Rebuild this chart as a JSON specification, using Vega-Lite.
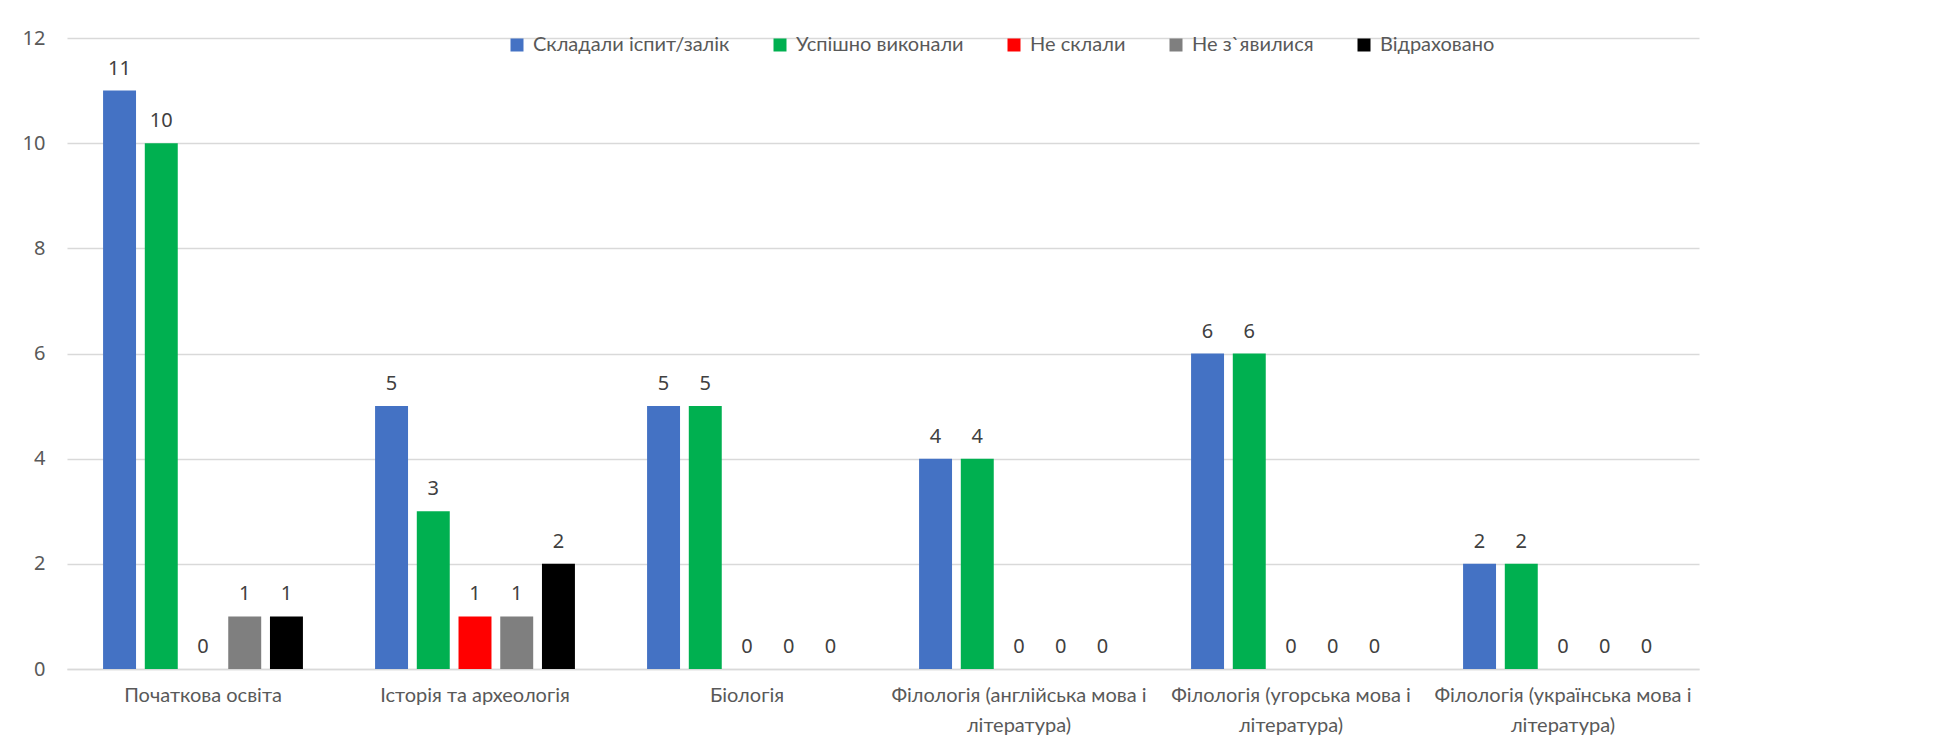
{
  "$schema": "https://vega.github.io/schema/vega-lite/v6.json",
  "autosize": {"type": "none"},
  "width": 1632,
  "height": 631,
  "padding": {"left": 67, "top": 38, "right": 260, "bottom": 79},
  "background": "white",
  "data": {
    "values": [
      {"program": "Початкова освіта", "status": "Складали іспит/залік", "count": 11},
      {"program": "Початкова освіта", "status": "Успішно виконали", "count": 10},
      {"program": "Початкова освіта", "status": "Не склали", "count": 0},
      {"program": "Початкова освіта", "status": "Не з`явилися", "count": 1},
      {"program": "Початкова освіта", "status": "Відраховано", "count": 1},
      {"program": "Історія та археологія", "status": "Складали іспит/залік", "count": 5},
      {"program": "Історія та археологія", "status": "Успішно виконали", "count": 3},
      {"program": "Історія та археологія", "status": "Не склали", "count": 1},
      {"program": "Історія та археологія", "status": "Не з`явилися", "count": 1},
      {"program": "Історія та археологія", "status": "Відраховано", "count": 2},
      {"program": "Біологія", "status": "Складали іспит/залік", "count": 5},
      {"program": "Біологія", "status": "Успішно виконали", "count": 5},
      {"program": "Біологія", "status": "Не склали", "count": 0},
      {"program": "Біологія", "status": "Не з`явилися", "count": 0},
      {"program": "Біологія", "status": "Відраховано", "count": 0},
      {"program": "Філологія (англійська мова і література)", "status": "Складали іспит/залік", "count": 4},
      {"program": "Філологія (англійська мова і література)", "status": "Успішно виконали", "count": 4},
      {"program": "Філологія (англійська мова і література)", "status": "Не склали", "count": 0},
      {"program": "Філологія (англійська мова і література)", "status": "Не з`явилися", "count": 0},
      {"program": "Філологія (англійська мова і література)", "status": "Відраховано", "count": 0},
      {"program": "Філологія (угорська мова і література)", "status": "Складали іспит/залік", "count": 6},
      {"program": "Філологія (угорська мова і література)", "status": "Успішно виконали", "count": 6},
      {"program": "Філологія (угорська мова і література)", "status": "Не склали", "count": 0},
      {"program": "Філологія (угорська мова і література)", "status": "Не з`явилися", "count": 0},
      {"program": "Філологія (угорська мова і література)", "status": "Відраховано", "count": 0},
      {"program": "Філологія (українська мова і література)", "status": "Складали іспит/залік", "count": 2},
      {"program": "Філологія (українська мова і література)", "status": "Успішно виконали", "count": 2},
      {"program": "Філологія (українська мова і література)", "status": "Не склали", "count": 0},
      {"program": "Філологія (українська мова і література)", "status": "Не з`явилися", "count": 0},
      {"program": "Філологія (українська мова і література)", "status": "Відраховано", "count": 0}
    ]
  },
  "encoding": {
    "x": {
      "field": "program",
      "type": "nominal",
      "sort": null,
      "scale": {"paddingInner": 0.233, "paddingOuter": 0.1165},
      "axis": {
        "title": null,
        "ticks": false,
        "domainColor": "#d9d9d9",
        "domainWidth": 1.5,
        "labelAngle": 0,
        "labelFont": "Lato",
        "labelFontSize": 20,
        "labelColor": "#595959",
        "labelPadding": 16,
        "labelLineHeight": 30,
        "labelLimit": 400,
        "labelExpr": "indexof(datum.value, ' і ') > 0 ? [substring(datum.value, 0, indexof(datum.value, ' і ') + 2), substring(datum.value, indexof(datum.value, ' і ') + 3)] : datum.value"
      }
    },
    "xOffset": {
      "field": "status",
      "type": "nominal",
      "scale": {
        "domain": ["Складали іспит/залік", "Успішно виконали", "Не склали", "Не з`явилися", "Відраховано"],
        "paddingInner": 0.21,
        "paddingOuter": 0.105
      }
    },
    "y": {
      "field": "count",
      "type": "quantitative",
      "scale": {"domain": [0, 12], "nice": false},
      "axis": {
        "title": null,
        "values": [0, 2, 4, 6, 8, 10, 12],
        "domain": false,
        "ticks": false,
        "gridColor": "#d9d9d9",
        "gridWidth": 1.5,
        "labelFont": "Noto Sans",
        "labelFontSize": 20,
        "labelColor": "#595959",
        "labelPadding": 22
      }
    }
  },
  "layer": [
    {
      "mark": {"type": "bar"},
      "encoding": {
        "color": {
          "field": "status",
          "type": "nominal",
          "scale": {
            "domain": ["Складали іспит/залік", "Успішно виконали", "Не склали", "Не з`явилися", "Відраховано"],
            "range": ["#4472C4", "#00B050", "#FF0000", "#7F7F7F", "#000000"]
          },
          "legend": {
            "title": null,
            "orient": "none",
            "direction": "horizontal",
            "legendX": 440,
            "legendY": -3,
            "symbolType": "square",
            "symbolSize": 169,
            "symbolStrokeWidth": 0,
            "labelFont": "Lato",
            "labelFontSize": 20,
            "labelColor": "#595959",
            "labelOffset": 6,
            "columnPadding": 40,
            "labelLimit": 400
          }
        }
      }
    },
    {
      "mark": {"type": "text", "baseline": "alphabetic", "dy": -16, "font": "Noto Sans", "fontSize": 20, "color": "#404040"},
      "encoding": {
        "text": {"field": "count", "type": "quantitative"}
      }
    }
  ],
  "config": {"view": {"stroke": null}}
}
